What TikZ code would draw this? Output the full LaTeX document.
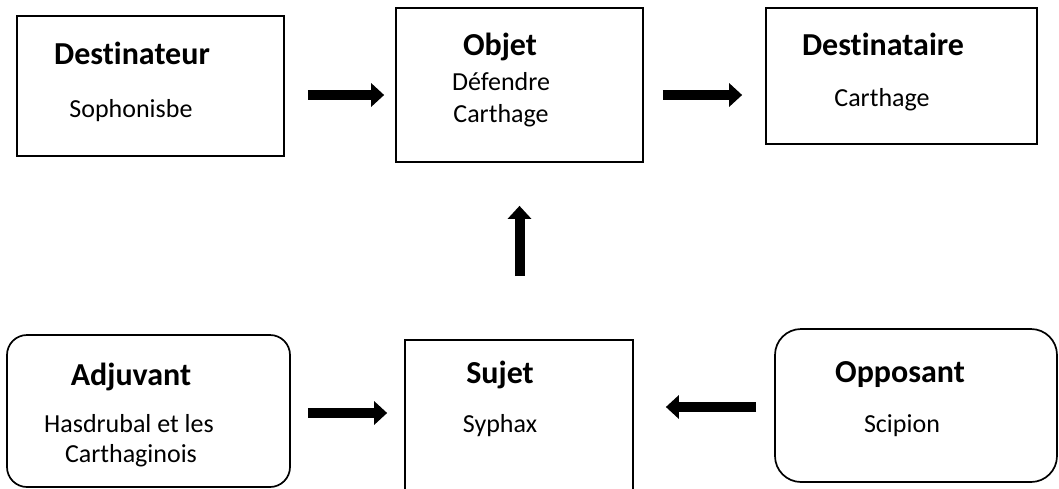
\documentclass[tikz,border=0pt]{standalone}
\usepackage{fontspec}
\setmainfont{Carlito}[Ligatures=NoCommon]
\usetikzlibrary{arrows.meta}
\tikzset{
  box/.style={draw=black, line width=1.7pt, inner sep=0pt},
  rbox/.style={box, rounded corners=#1},
  ttl/.style={anchor=base, inner sep=0pt, font=\fontsize{32}{38}\selectfont\bfseries},
  txt/.style={anchor=base, inner sep=0pt, font=\fontsize{26}{31}\selectfont},
  bigarrow/.style={line width=10pt, -{Triangle[length=13pt,width=23pt]}}
}
\begin{document}
\begin{tikzpicture}[x=1pt,y=-1pt]
\clip (0,0) rectangle (1059,488);
\fill[white] (0,0) rectangle (1059,488);
% boxes
\node[box, minimum width=267pt, minimum height=140pt] (dest) at (150.5,86) {};
\node[box, minimum width=247pt, minimum height=154pt] (obj) at (519.5,85) {};
\node[box, minimum width=271pt, minimum height=136pt] (destre) at (901.5,76) {};
\node[rbox=20pt, minimum width=283pt, minimum height=152pt] (adj) at (148.5,411) {};
\node[box, minimum width=228pt, minimum height=160pt] (suj) at (519,420) {};
\node[rbox=26pt, minimum width=282pt, minimum height=153pt] (opp) at (916,405.5) {};
% texts
\node[ttl] (t1) at (132,64) {Destinateur};
\node[txt] (s1) at (131,117) {Sophonisbe};
\node[ttl] (t2) at (500,55) {Objet};
\node[txt] (s2a) at (501,90) {Défendre};
\node[txt] (s2b) at (501,122) {Carthage};
\node[ttl] (t3) at (883,55) {Destinataire};
\node[txt] (s3) at (882,106) {Carthage};
\node[ttl] (t4) at (131,385) {Adjuvant};
\node[txt] (s4a) at (129,432) {Hasdrubal et les};
\node[txt] (s4b) at (131,462) {Carthaginois};
\node[ttl] (t5) at (500,383) {Sujet};
\node[txt] (s5) at (500,432) {Syphax};
\node[ttl] (t6) at (900,382) {Opposant};
\node[txt] (s6) at (902,432) {Scipion};
% arrows
\draw[bigarrow, shorten <=23pt, shorten >=11pt] ([yshift=-9pt]dest.east) -- ([yshift=-10pt]obj.west);
\draw[bigarrow, shorten <=19pt, shorten >=23pt] ([yshift=-10pt]obj.east) -- ([yshift=-19pt]destre.west);
\draw[bigarrow, shorten <=63pt, shorten >=43pt] ([xshift=0.5pt]suj.north) -- (obj.south);
\draw[bigarrow, shorten <=17pt, shorten >=17pt] ([yshift=-2pt]adj.east) -- ([yshift=7pt]suj.west);
\draw[bigarrow, shorten <=18pt, shorten >=32pt] ([yshift=-1.5pt]opp.west) -- ([yshift=13pt]suj.east);
\end{tikzpicture}
\end{document}
